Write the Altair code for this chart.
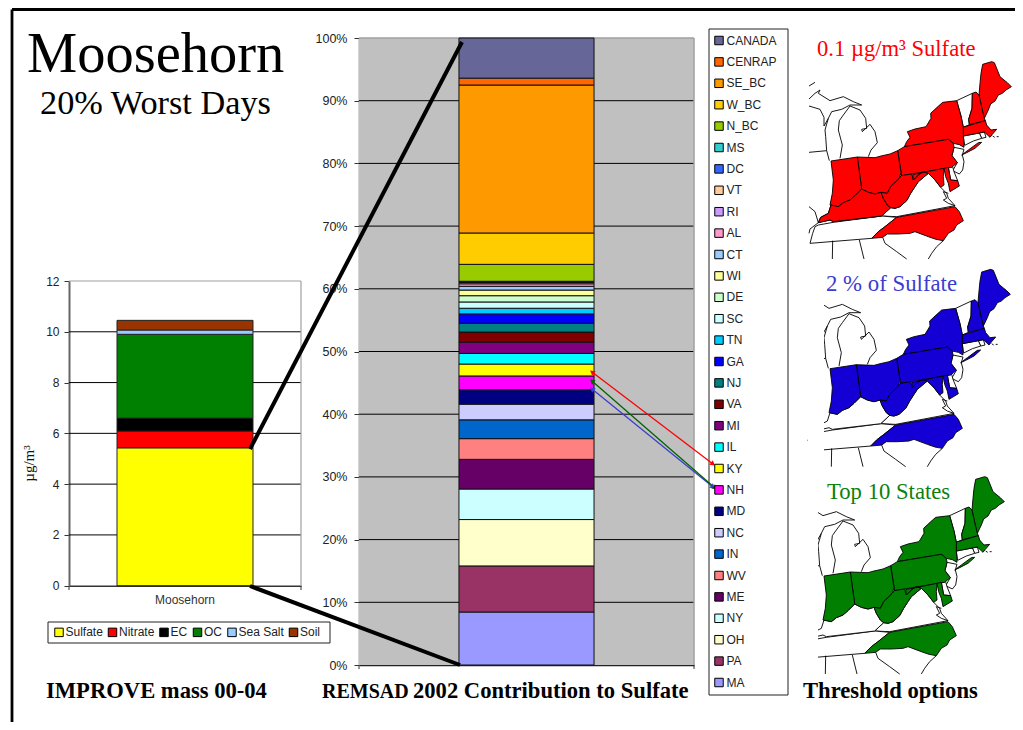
import math
import altair as alt
import pandas as pd

SANS = "Liberation Sans"
SERIF = "Liberation Serif"
W, H = 1007, 714

# ---- left chart data
species = ["Sulfate", "Nitrate", "EC", "OC", "Sea Salt", "Soil"]
species_vals = [5.43, 0.66, 0.51, 3.30, 0.17, 0.38]
species_cols = ["#FFFF00", "#FF0000", "#000000", "#008000", "#99CCFF", "#993300"]
mass_ticks = [0, 2, 4, 6, 8, 10, 12]

# ---- middle chart data (bottom to top)
regions = ["MA", "PA", "OH", "NY", "ME", "WV", "IN", "NC", "MD", "NH", "KY", "IL", "MI", "VA", "NJ", "GA",
           "TN", "SC", "DE", "WI", "CT", "AL", "RI", "VT", "DC", "MS", "N_BC", "W_BC", "SE_BC", "CENRAP", "CANADA"]
region_vals = [8.45, 7.35, 7.4, 4.87, 4.73, 3.3, 3.0, 2.5, 2.3, 2.2, 1.9, 1.7, 1.8, 1.6, 1.4, 1.5,
               0.9, 1.0, 1.0, 0.9, 0.6, 0.4, 0.2, 0.1, 0.05, 0.05, 2.7, 5.0, 23.6, 1.1, 6.4]
region_cols = ["#9999FF", "#993366", "#FFFFCC", "#CCFFFF", "#660066", "#FF8080", "#0066CC", "#CCCCFF",
               "#000080", "#FF00FF", "#FFFF00", "#00FFFF", "#800080", "#800000", "#008080", "#0000FF",
               "#00CCFF", "#CCFFFF", "#CCFFCC", "#FFFF99", "#99CCFF", "#FF99CC", "#CC99FF", "#FFCC99",
               "#3366FF", "#33CCCC", "#99CC00", "#FFCC00", "#FF9900", "#FF6600", "#666699"]
pct_ticks = [i / 10 for i in range(11)]

# ---- annotations, in page units
reg_text = [("Moosehorn", 27, 72, 56.5, "#000000"), ("20% Worst Days", 40, 114, 34.3, "#000000"),
            ("0.1 µg/m³ Sulfate", 817, 56, 22.6, "#FF0000"), ("2 % of Sulfate", 826, 291, 22.8, "#3C3CD0"),
            ("Top 10 States", 827, 499, 22.7, "#0D800D")]
bold_text = [("IMPROVE mass 00-04", 46, 698, 22.6), ("REMSAD", 322, 698, 20),
             ("2002 Contribution to Sulfate", 413, 698, 22.6), ("Threshold options", 803, 698, 22.6)]
callouts = [(250, 449, 462, 42), (250, 586, 460, 665)]
arrows = [(592, 372, 713, 464, "#FF0000"), (592, 389, 713, 487, "#3C3CD0"), (592, 381, 715, 488, "#006400")]
page_border = [(12, 9.5, 1015, 9.5), (12, 9.5, 12, 722)]
legend_frames = [(48, 622, 330, 643), (709, 29, 788, 695)]
edge_ticks = [(69, 586, 69, 590), (301, 586, 301, 590), (359, 665, 359, 669), (694, 665, 694, 669)]
light_edges = [(69, 281, 301, 281), (301, 281, 301, 586), (359, 38, 694, 38), (694, 38, 694, 665)]

# ---- maps: outlines in a shared local unit
ME = [(537,195),(540,160),(543,130),(548,103),(575,95),(583,98),(590,115),(600,140),(612,150),(622,158),(634,170),(618,180),(607,190),(595,195),(585,213),(572,222),(565,240),(553,265),(545,232)]
NH = [(517,190),(528,186),(537,195),(545,232),(553,265),(556,272),(508,284),(506,268),(516,235)]
VT = [(470,212),(517,190),(516,235),(506,268),(508,284),(490,292),(483,258)]
NY = [(313,350),(320,335),(330,322),(322,305),(345,297),(378,290),(393,265),(392,250),(408,235),(428,217),(470,212),(483,258),(490,292),(490,318),(492,352),(478,344),(460,340),(445,328)]
LI = [(485,375),(505,360),(535,338),(545,337),(525,355),(500,368)]
MA = [(488,292),(556,272),(560,285),(573,300),(590,298),(577,313),(570,322),(553,306),(490,318)]
RI = [(538,309),(553,306),(558,322),(545,325)]
CT = [(490,318),(538,309),(545,325),(520,333),(494,346)]
NJ = [(462,352),(492,358),(487,375),(492,395),(488,420),(478,432),(458,422),(472,398),(456,377)]
PA = [(293,362),(313,350),(445,328),(460,340),(462,352),(456,377),(472,398),(455,412),(305,437)]
OH = [(172,381),(225,383),(243,378),(270,372),(293,362),(303,428),(298,445),(272,470),(262,490),(243,487),(225,492),(205,487),(185,477)]
IN = [(93,393),(172,381),(185,477),(165,497),(150,510),(130,518),(115,530),(90,525),(97,490),(100,450)]
KY = [(55,578),(62,562),(85,550),(93,525),(115,530),(130,518),(150,510),(165,497),(185,477),(205,487),(225,492),(243,487),(250,505),(262,525),(272,533),(245,558),(100,575),(90,570)]
WV = [(243,487),(262,490),(272,470),(298,445),(303,437),(335,432),(340,450),(358,432),(370,425),(385,430),(355,455),(345,470),(332,490),(320,512),(300,530),(285,535),(272,533),(262,525),(250,505)]
MD_W = [(338,434),(432,415),(430,440),(432,465),(422,472),(405,450),(385,430),(370,425),(358,432),(340,450)]
MD_E = [(432,415),(445,412),(452,450),(473,452),(478,468),(450,485),(445,460),(437,440)]
DE = [(445,412),(458,410),(462,425),(473,452),(452,450)]
VA = [(245,558),(272,533),(285,535),(300,530),(320,512),(332,490),(345,470),(355,455),(385,430),(405,450),(422,472),(440,490),(445,505),(465,527),(290,560)]
NC = [(215,625),(235,605),(255,590),(290,562),(465,530),(478,545),(490,572),(470,585),(462,600),(445,610),(430,632),(408,628),(385,620),(345,605),(330,610),(295,612),(262,612),(248,622)]
TN = [(30,640),(38,610),(45,590),(55,585),(100,577),(245,558),(290,562),(255,590),(235,605),(215,625)]
LINES = [
    [(248,622),(255,640),(290,665),(320,687)],
    [(430,632),(410,650),(395,670),(385,687)],
    [(98,632),(97,687)], [(178,630),(192,687)],
    [(120,385),(127,345),(115,300),(118,272),(130,255),(150,228),(180,240),(197,265),(200,295),(185,298),(187,305),(210,283),(225,305),(232,338),(213,360),(205,380)],
    [(88,392),(80,362),(77,320),(75,300),(85,265),(72,288),(72,262),(60,238),(27,228)],
    [(85,265),(95,245),(125,238),(150,225),(185,225)],
    [(27,207),(45,190),(60,180),(55,190),(90,212),(130,200),(160,215),(185,225)],
    [(27,168),(45,157)], [(27,367),(80,362)],
    [(27,530),(45,545),(55,578),(30,597),(27,610)],
    [(445,490),(430,485),(440,505),(430,510),(445,520),(465,527)],
    [(590,320),(596,320)], [(578,318),(584,322)],
]
OTHER = [VT, RI, CT, NJ, DE, VA, TN, KY]
STRONG_12 = [ME, NH, MA, NY, LI, PA, OH, IN, KY, WV, MD_W, MD_E, NC]
STRONG_23 = [ME, NH, MA, NY, LI, PA, OH, IN, WV, MD_W, MD_E, NC]
map_offsets = [(800, 30), (799, 237.7), (793, 445)]
map_colors = ["#FF0000", "#1400D4", "#007F00"]
map_sets = [STRONG_12, STRONG_23, STRONG_23]
mask_rects = [(808, 285, 824, 467), (800, 490, 818, 675)]


def sx(a, b):
    return alt.Scale(domain=[0, 1], range=[a - 8, b - 8])


PAGE_X = alt.Scale(domain=[8, 8 + W], range=[0, W])
PAGE_Y = alt.Scale(domain=[8, 8 + H], range=[0, H])
X = lambda f: alt.X(f, scale=PAGE_X, axis=None)
Y = lambda f: alt.Y(f, scale=PAGE_Y, axis=None)


def seg_df(items):
    return pd.DataFrame(items, columns=["x", "y", "x2", "y2"])


def segs(items, color, width):
    return alt.Chart(seg_df(items)).mark_rule(color=color, strokeWidth=width).encode(
        x=X("x:Q"), y=Y("y:Q"), x2="x2:Q", y2="y2:Q")


def text_layer(rows, weight):
    rows = [r if len(r) == 5 else r + ("#000000",) for r in rows]
    df = pd.DataFrame(rows, columns=["t", "x", "y", "s", "c"])
    return alt.Chart(df).mark_text(align="left", baseline="alphabetic", font=SERIF, fontWeight=weight).encode(
        x=X("x:Q"), y=Y("y:Q"), text="t:N", size=alt.Size("s:Q", scale=None),
        color=alt.Color("c:N", scale=None))


def feature(coords, ox, oy, kind):
    pts = [[ox + u / 3 - 8, oy + v / 3 - 8] for u, v in coords]
    if kind == "Polygon":
        return {"type": "Feature", "properties": {},
                "geometry": {"type": "Polygon", "coordinates": [pts + [pts[0]]]}}
    return {"type": "Feature", "properties": {}, "geometry": {"type": "LineString", "coordinates": pts}}


PROJ = dict(type="identity", scale=1, translate=[0, 0])


def geo(features, **mark):
    return alt.Chart(alt.Data(values=features)).mark_geoshape(**mark).project(**PROJ)


# ----- left chart
left_x = alt.Scale(domain=["Moosehorn"], range=[69 - 8, 301 - 8], paddingInner=0, paddingOuter=0.353)
left_y = alt.Scale(domain=[0, 12], range=[585.7 - 8, 281 - 8])
df_left = pd.DataFrame({"site": "Moosehorn", "species": species, "v": species_vals, "i": range(len(species))})
left_grid = alt.Chart(pd.DataFrame({"v": mass_ticks[1:-1], "a": 0, "b": 1})).mark_rule(color="black", strokeWidth=1).encode(
    y=alt.Y("v:Q", scale=left_y, axis=None), x=alt.X("a:Q", scale=sx(69, 301), axis=None), x2="b:Q")
left_bar = alt.Chart(df_left).mark_bar(stroke="#222222", strokeWidth=1).encode(
    x=alt.X("site:N", scale=left_x, title=None,
            axis=alt.Axis(orient="bottom", offset=-(H - 577.7), labelAngle=0, ticks=False, labelFont=SANS, labelFontSize=12,
                          labelColor="#333333", domainColor="#333333", domainWidth=1.5, labelPadding=9)),
    y=alt.Y("v:Q", stack="zero", scale=left_y,
            axis=alt.Axis(orient="left", values=mass_ticks, offset=-61, grid=False, title="µg/m³", titleFont=SERIF,
                          titleFontSize=15, titleFontWeight="normal", titleColor="#111111", titleX=-33, titleY=455,
                          labelFont=SANS, labelFontSize=12, labelColor="#222222", tickColor="#333333", tickSize=5,
                          labelPadding=5, domainColor="#666666", domainWidth=2)),
    color=alt.Color("species:N", scale=alt.Scale(domain=species, range=species_cols), legend=alt.Legend(
        orient="none", legendX=45, legendY=618, direction="horizontal", columns=6, columnPadding=2.5, title=None,
        symbolType="square", symbolSize=72, symbolStrokeColor="black", symbolStrokeWidth=1, labelFont=SANS,
        labelFontSize=12, labelColor="#222222", labelOffset=0.5, padding=0, zindex=1)),
    order=alt.Order("i:Q"))

# ----- middle chart
mid_x = alt.Scale(domain=["REMSAD"], range=[359 - 8, 694 - 8], paddingInner=0, paddingOuter=0.74)
mid_y = alt.Scale(domain=[0, 1], range=[665 - 8, 38 - 8])
df_mid = pd.DataFrame({"site": "REMSAD", "region": regions, "v": region_vals, "i": range(len(regions))})
mid_bg = alt.Chart(pd.DataFrame({"a": [0], "b": [1], "c": [0], "d": [1]})).mark_rect(color="#C0C0C0").encode(
    x=alt.X("a:Q", scale=sx(359, 694), axis=None), x2="b:Q",
    y=alt.Y("c:Q", scale=mid_y, axis=None), y2="d:Q")
mid_grid = alt.Chart(pd.DataFrame({"v": pct_ticks[1:-1], "a": 0, "b": 1})).mark_rule(color="black", strokeWidth=1).encode(
    y=alt.Y("v:Q", scale=mid_y, axis=None), x=alt.X("a:Q", scale=sx(359, 694), axis=None), x2="b:Q")
mid_bar = alt.Chart(df_mid).mark_bar(stroke="#111111", strokeWidth=1).encode(
    x=alt.X("site:N", scale=mid_x, title=None,
            axis=alt.Axis(orient="bottom", offset=-(H - 657), labels=False, ticks=False, domainColor="#222222", domainWidth=1.5)),
    y=alt.Y("v:Q", stack="normalize", scale=mid_y,
            axis=alt.Axis(orient="left", values=pct_ticks, format=".0%", offset=-351, grid=False, title=None, labelFont=SANS,
                          labelFontSize=12.5, labelColor="#222222", tickColor="#333333", tickSize=5, labelPadding=7,
                          domainColor="#555555", domainWidth=1.5)),
    color=alt.Color("region:N", scale=alt.Scale(domain=regions[::-1], range=region_cols[::-1]), legend=alt.Legend(
        orient="none", legendX=705, legendY=26.5, columns=1, title=None, rowPadding=7.4, symbolLimit=0,
        symbolType="square", symbolSize=72, symbolStrokeColor="black", symbolStrokeWidth=1, labelFont=SANS,
        labelFontSize=12, labelColor="#222222", labelOffset=1.5, padding=0, zindex=1)),
    order=alt.Order("i:Q"))

# ----- arrows
arrow_lines = alt.Chart(pd.DataFrame(arrows, columns=["x", "y", "x2", "y2", "c"])).mark_rule(strokeWidth=1.3).encode(
    x=X("x:Q"), y=Y("y:Q"), x2="x2:Q", y2="y2:Q", color=alt.Color("c:N", scale=None))
heads = []
for x1, y1, x2, y2, c in arrows:
    ang = math.degrees(math.atan2(x2 - x1, -(y2 - y1))) % 360
    heads.append((x2, y2, ang, c))
    heads.append((x1, y1, (ang + 180) % 360, c))
arrow_heads = alt.Chart(pd.DataFrame(heads, columns=["x", "y", "a", "c"])).mark_point(
    shape="triangle-up", filled=True, size=32, opacity=1).encode(
    x=X("x:Q"), y=Y("y:Q"), angle=alt.Angle("a:Q", scale=None), color=alt.Color("c:N", scale=None))

# ----- maps
map_layers = []
for (ox, oy), col, chosen in zip(map_offsets, map_colors, map_sets):
    map_layers.append(geo([feature(p, ox, oy, "Polygon") for p in OTHER], fill="white", stroke="black", strokeWidth=0.9))
    map_layers.append(geo([feature(p, ox, oy, "Polygon") for p in chosen], fill=col, stroke="black", strokeWidth=0.9))
    map_layers.append(geo([feature(p, ox, oy, "LineString") for p in LINES], filled=False, stroke="black", strokeWidth=0.9))

frames = alt.Chart(seg_df(legend_frames)).mark_rect(fill="white", stroke="#222222", strokeWidth=1).encode(
    x=X("x:Q"), y=Y("y:Q"), x2="x2:Q", y2="y2:Q")
masks = alt.Chart(seg_df(mask_rects)).mark_rect(fill="white").encode(
    x=X("x:Q"), y=Y("y:Q"), x2="x2:Q", y2="y2:Q")

chart = alt.layer(
    segs(page_border, "#000000", 2.8),
    left_grid, segs(light_edges[:2], "#A0A0A0", 1.2), left_bar, segs(edge_ticks, "#333333", 1),
    mid_bg, mid_grid, segs(light_edges[2:], "#A0A0A0", 1.5), mid_bar,
    frames,
    *map_layers, masks,
    arrow_lines, arrow_heads,
    segs(callouts, "#000000", 4),
    text_layer(reg_text, "normal"), text_layer(bold_text, "bold"),
).resolve_scale(x="independent", y="independent", color="independent", size="independent"
).resolve_axis(x="independent", y="independent"
).resolve_legend(color="independent"
).properties(width=W, height=H, padding=0, autosize=alt.AutoSizeParams(type="none"), background="white"
).configure_view(stroke=None)

chart.save("out.html", embed_options={"renderer": "svg", "actions": False})
